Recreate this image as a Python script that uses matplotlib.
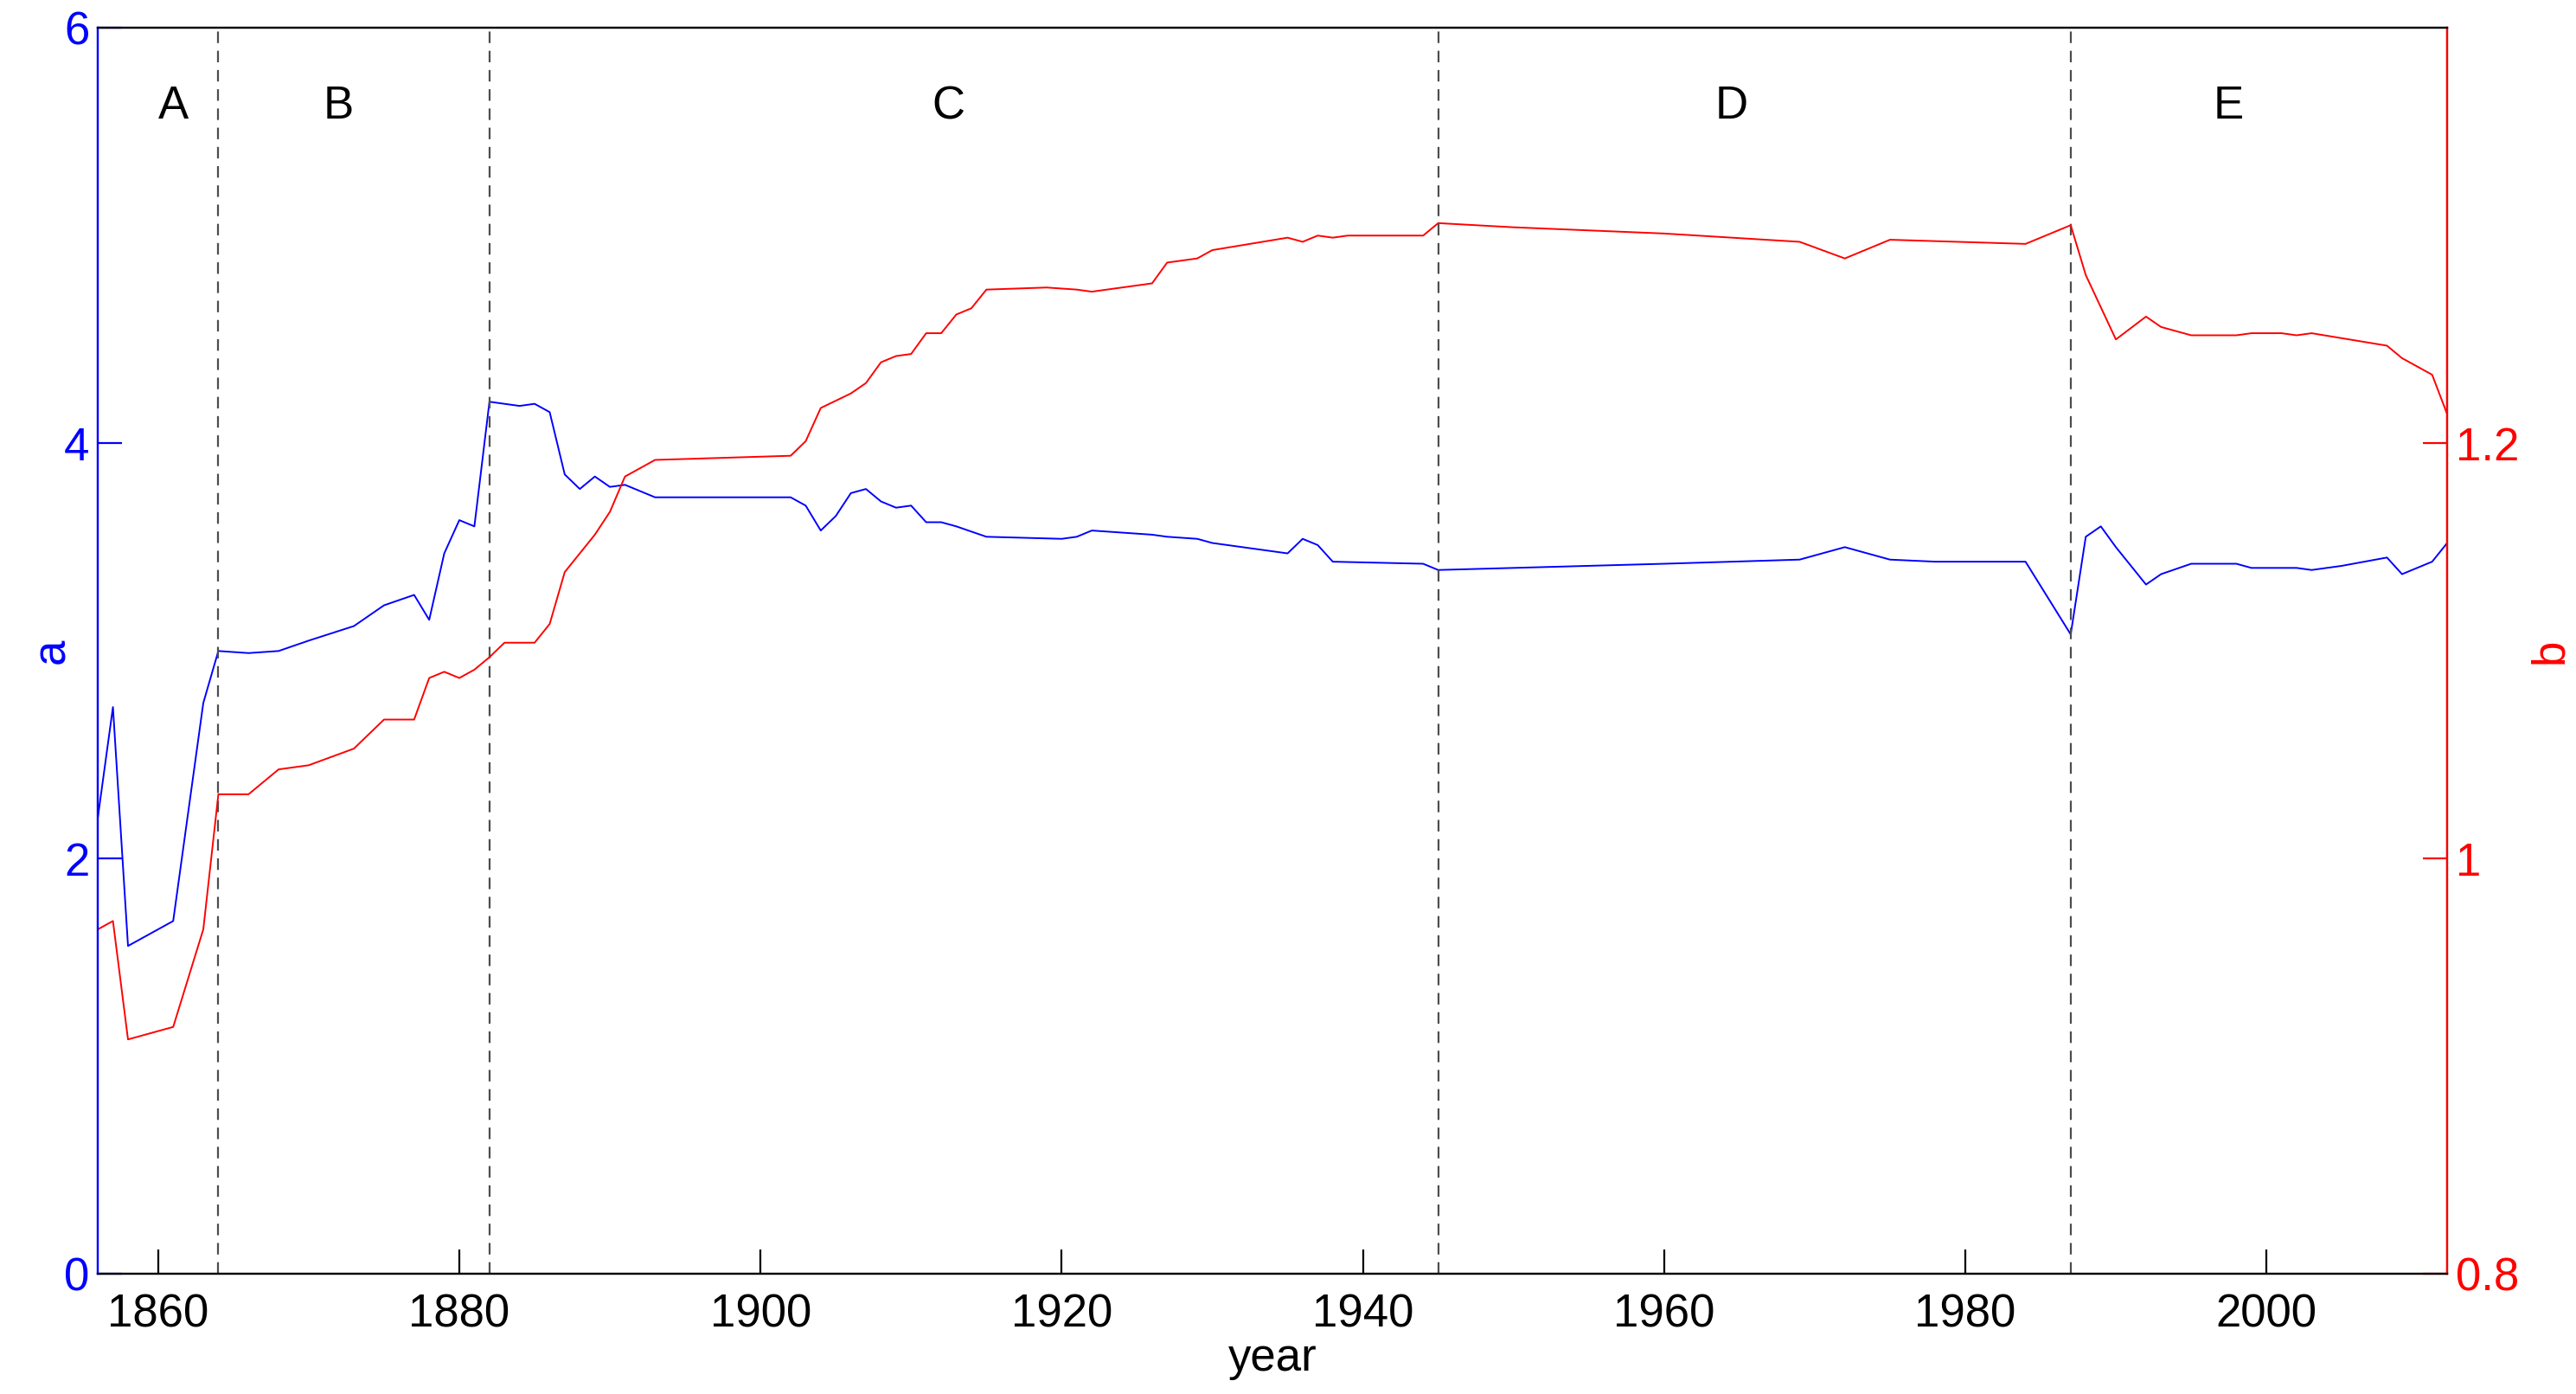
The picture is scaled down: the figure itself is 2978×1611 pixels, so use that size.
import matplotlib.pyplot as plt

plt.rcParams['font.family'] = ['Liberation Sans', 'DejaVu Sans']

years_a = [1856, 1857, 1858, 1861, 1863, 1864, 1866, 1868, 1870, 1873, 1875, 1877, 1878, 1879, 1880, 1881,
           1882, 1884, 1885, 1886, 1887, 1888, 1889, 1890, 1891, 1893, 1900, 1902, 1903, 1904, 1905, 1906,
           1907, 1908, 1909, 1910, 1911, 1912, 1913, 1915, 1920, 1921, 1922, 1924, 1926, 1927, 1929, 1930,
           1935, 1936, 1937, 1938, 1944, 1945, 1950, 1960, 1969, 1972, 1975, 1978, 1984, 1987, 1988, 1989,
           1990, 1992, 1993, 1995, 1998, 1999, 2002, 2003, 2005, 2008, 2009, 2011, 2012]
a = [2.2, 2.73, 1.58, 1.7, 2.75, 3.0, 2.99, 3.0, 3.05, 3.12, 3.22, 3.27, 3.15, 3.47, 3.63, 3.6,
     4.2, 4.18, 4.19, 4.15, 3.85, 3.78, 3.84, 3.79, 3.8, 3.74, 3.74, 3.74, 3.7, 3.58, 3.65, 3.76,
     3.78, 3.72, 3.69, 3.7, 3.62, 3.62, 3.6, 3.55, 3.54, 3.55, 3.58, 3.57, 3.56, 3.55, 3.54, 3.52,
     3.47, 3.54, 3.51, 3.43, 3.42, 3.39, 3.4, 3.42, 3.44, 3.5, 3.44, 3.43, 3.43, 3.08, 3.55, 3.6,
     3.5, 3.32, 3.37, 3.42, 3.42, 3.4, 3.4, 3.39, 3.41, 3.45, 3.37, 3.43, 3.52]

years_b = [1856, 1857, 1858, 1861, 1863, 1864, 1866, 1868, 1870, 1873, 1875, 1877, 1878, 1879, 1880, 1881,
           1882, 1883, 1885, 1886, 1887, 1889, 1890, 1891, 1893, 1902, 1903, 1904, 1906, 1907, 1908, 1909,
           1910, 1911, 1912, 1913, 1914, 1915, 1919, 1921, 1922, 1924, 1926, 1927, 1929, 1930, 1935, 1936,
           1937, 1938, 1939, 1944, 1945, 1950, 1960, 1969, 1972, 1975, 1984, 1987, 1988, 1990, 1992, 1993, 1995,
           1998, 1999, 2001, 2002, 2003, 2008, 2009, 2011, 2012]
b = [0.966, 0.970, 0.913, 0.919, 0.966, 1.031, 1.031, 1.043, 1.045, 1.053, 1.067, 1.067, 1.087, 1.09, 1.087, 1.091,
     1.097, 1.104, 1.104, 1.113, 1.138, 1.156, 1.167, 1.184, 1.192, 1.194, 1.201, 1.217, 1.224, 1.229, 1.239, 1.242,
     1.243, 1.253, 1.253, 1.262, 1.265, 1.274, 1.275, 1.274, 1.273, 1.275, 1.277, 1.287, 1.289, 1.293, 1.299, 1.297,
     1.300, 1.299, 1.300, 1.300, 1.306, 1.304, 1.301, 1.297, 1.289, 1.298, 1.296, 1.305, 1.281, 1.25, 1.261, 1.256, 1.252,
     1.252, 1.253, 1.253, 1.252, 1.253, 1.247, 1.241, 1.233, 1.214]

breaks = [1864, 1882, 1945, 1987]
periods = ['A', 'B', 'C', 'D', 'E']
period_x = [1861, 1872, 1912.5, 1964.5, 1997.5]

fig, ax = plt.subplots(figsize=(14.89, 8.055), dpi=200)
fig.subplots_adjust(left=0.038, right=0.95, top=0.98, bottom=0.086)
ax.plot(years_a, a, color='blue', lw=0.7)
ax.set_xlim(1856, 2012)
ax.set_ylim(0, 6)
ax.set_yticks([0, 2, 4, 6])
ax.set_xlabel('year', fontsize=19, labelpad=0)
ax.set_ylabel('a', fontsize=19, color='blue', labelpad=-4)
ax.tick_params(axis='y', colors='blue', direction='in', length=10, labelsize=19)
ax.tick_params(axis='x', direction='in', length=10, labelsize=19, pad=8)
ax.spines['left'].set_color('blue')

for x in breaks:
    ax.axvline(x, color='0.3', ls=(0, (6, 4)), lw=0.8)
for x, p in zip(period_x, periods):
    ax.text(x, 5.62, p, ha='center', va='center', fontsize=19)

ax2 = ax.twinx()
ax2.plot(years_b, b, color='red', lw=0.7)
ax2.set_ylim(0.8, 1.4)
ax2.set_yticks([0.8, 1.0, 1.2])
ax2.set_yticklabels(['0.8', '1', '1.2'])
ax2.set_ylabel('b', fontsize=19, color='red')
ax2.tick_params(axis='y', colors='red', direction='in', length=10, labelsize=19)
ax2.spines['right'].set_color('red')
ax2.spines['left'].set_color('blue')

fig.savefig('out.png')
